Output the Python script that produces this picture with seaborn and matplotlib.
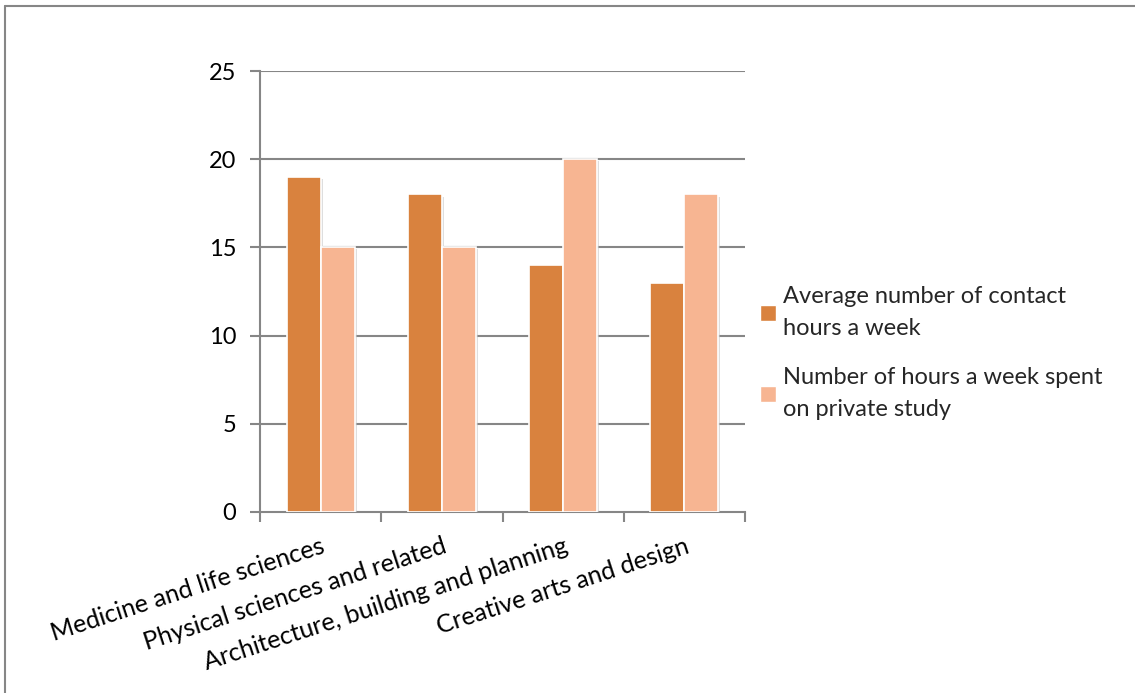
import matplotlib
matplotlib.use("Agg")
import matplotlib.pyplot as plt
import matplotlib.patheffects as pe
from matplotlib.lines import Line2D
from matplotlib.patches import Patch
import seaborn as sns
import pandas as pd

categories = ["Medicine and life sciences", "Physical sciences and related",
              "Architecture, building and planning", "Creative arts and design"]
series_names = ["Average number of contact hours a week",
                "Number of hours a week spent on private study"]
legend_labels = ["Average number of contact\nhours a week",
                 "Number of hours a week spent\non private study"]
contact_hours = [19, 18, 14, 13]
private_study = [15, 15, 20, 18]
yticks = [0, 5, 10, 15, 20, 25]
colors = ["#D9823E", "#F7B592"]

df = pd.DataFrame({
    "Category": categories * 2,
    "Series": [series_names[0]] * 4 + [series_names[1]] * 4,
    "Hours": contact_hours + private_study,
})

sns.set_theme(style="white")
plt.rcParams["font.family"] = ["Lato", "DejaVu Sans"]

W, H = 1135, 693
fig = plt.figure(figsize=(W / 100, H / 100), dpi=100)
ax = fig.add_axes([260 / W, 1 - 512 / H, (745 - 260) / W, (512 - 71) / H])

sns.barplot(data=df, x="Category", y="Hours", hue="Series",
            palette=colors, saturation=1, width=0.56, ax=ax, legend=False,
            edgecolor="white", linewidth=1.2)
for p in ax.patches:
    p.set_path_effects([pe.SimplePatchShadow(offset=(1.5, -1.5), shadow_rgbFace="#c8c8c8", alpha=0.6),
                        pe.Normal()])
    p.set_zorder(3)

ax.set_ylim(0, 25)
ax.set_xlim(-0.5, 3.5)
ax.set_yticks(yticks)
ax.set_yticklabels([str(v) for v in yticks], fontsize=17, color="black")
for v in yticks[1:]:
    ax.axhline(v, color="#868686", lw=1.5, zorder=1)

ax.set_xticks([0, 1, 2, 3])
ax.set_xticklabels(categories, rotation=18, ha="right", rotation_mode="anchor",
                   fontsize=18, color="black")
ax.tick_params(axis="x", length=0, pad=16)
ax.tick_params(axis="y", which="major", length=7, width=1.5, color="#868686",
               left=True, pad=10)
ax.set_xticks([-0.5, 0.5, 1.5, 2.5, 3.5], minor=True)
ax.tick_params(axis="x", which="minor", length=7, width=1.5, color="#868686", bottom=True)

ax.set_xlabel("")
ax.set_ylabel("")
for s in ["top", "right"]:
    ax.spines[s].set_visible(False)
for s in ["left", "bottom"]:
    ax.spines[s].set_color("#868686")
    ax.spines[s].set_linewidth(1.5)

handles = [Patch(facecolor=c, edgecolor="white") for c in colors]
leg = fig.legend(handles, legend_labels, loc="upper left",
                 bbox_to_anchor=(751 / W, 1 - 277 / H), frameon=False,
                 fontsize=17, handlelength=0.65, handleheight=0.65,
                 handletextpad=0.3, labelspacing=1.17, borderaxespad=0)
for t in leg.get_texts():
    t.set_linespacing(1.65)

fig.add_artist(Line2D([5 / W, 5 / W], [0, 1 - 6 / H], transform=fig.transFigure,
                      color="#868686", lw=1.5))
fig.add_artist(Line2D([5 / W, 1], [1 - 6 / H, 1 - 6 / H], transform=fig.transFigure,
                      color="#868686", lw=1.5))

fig.savefig("out.png", dpi=100, facecolor="white")
